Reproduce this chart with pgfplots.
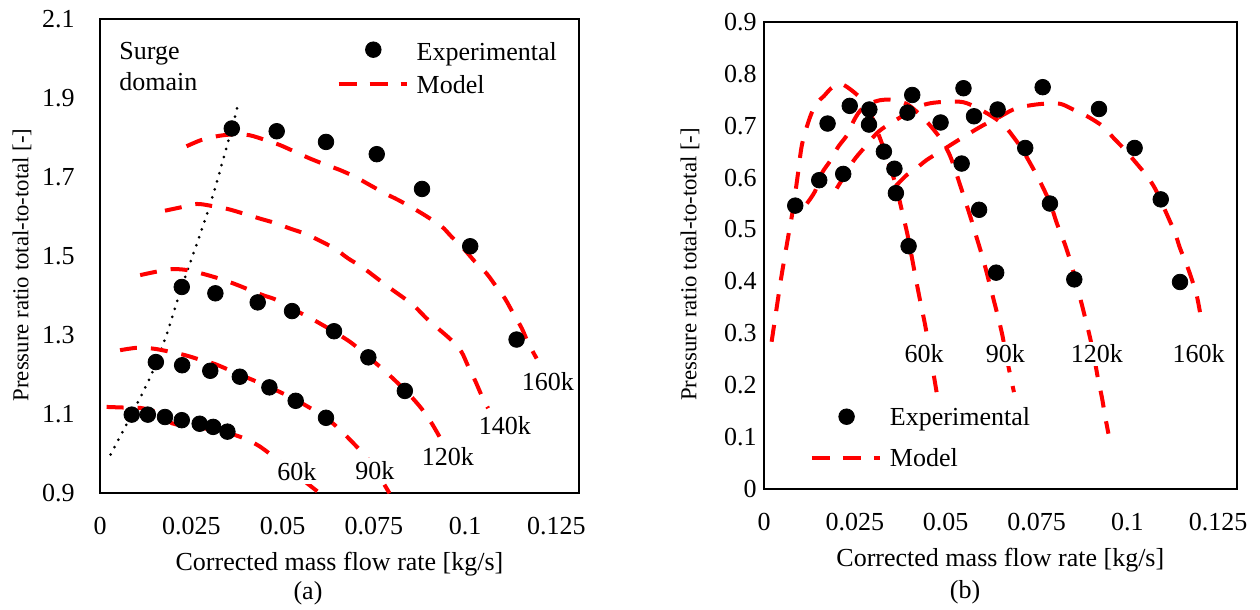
\documentclass[border=0pt]{standalone}
\usepackage{fontspec}
\setmainfont{Liberation Serif}
\usepackage{pgfplots}
\pgfplotsset{compat=1.18}

\newcommand{\chartfont}{\fontsize{13}{15.4}\selectfont}
\newcommand{\labelfont}{\fontsize{11.4}{13.5}\selectfont}

\pgfplotsset{
  mapaxis/.style={
    anchor=south west,
    scale only axis,
    xmin=0,
    axis line style={line width=1pt},
    major tick length=0pt,
    xtick={0,0.025,0.05,0.075,0.1,0.125},
    xticklabels={0,0.025,0.05,0.075,0.1,0.125},
    tick label style={font=\chartfont, inner sep=0pt},
    xticklabel style={yshift=-11.7pt},
    xlabel={Corrected mass flow rate [kg/s]},
    xlabel style={font=\chartfont, at={(axis description cs:0.5,0)}, anchor=north, inner sep=0pt, yshift=-29.3pt},
    ylabel={Pressure ratio total-to-total [-]},
    legend cell align=left,
    legend style={draw=none, fill=none, inner sep=0pt, outer sep=0pt,
      anchor=north west, column sep=4pt, font=\chartfont,
      nodes={inner sep=0pt, text height=8.6pt, text depth=2.8pt}},
  },
  model/.style={red, line width=2pt, dash pattern=on 8.5pt off 7pt, smooth, mark=none, forget plot},
  expt/.style={only marks, mark=*, mark size=3.9pt, black, forget plot},
}
\tikzset{speed/.style={font=\chartfont, fill=white, inner sep=1.5pt}}

\begin{document}
\begin{tikzpicture}[font=\chartfont]
\useasboundingbox (0,0) rectangle (630pt,305pt);

% (a) pressure ratio map
\begin{axis}[mapaxis,
  at={(50pt,58.35pt)}, width=239.5pt, height=237.15pt,
  xmax=0.1312, ymin=0.9, ymax=2.1,
  ytick={0.9,1.1,1.3,1.5,1.7,1.9,2.1},
  yticklabels={0.9,1.1,1.3,1.5,1.7,1.9,2.1},
  yticklabel style={xshift=-12.5pt},
  ylabel style={font=\labelfont, anchor=center, at={([xshift=-39pt,yshift=-4.4pt]axis description cs:0,0.5)}},
  legend style={at={(0.4942,0.9526)}, row sep=5.3pt},
]
\addlegendimage{legend image code/.code={\fill[black] (17.3pt,2.4pt) circle[radius=3.9pt];}}
\addlegendentry{Experimental}
\addlegendimage{legend image code/.code={\draw[red,line width=2pt,dash pattern=on 9pt off 6.5pt] (0pt,1.75pt) -- (34pt,1.75pt);}}
\addlegendentry{Model}

% surge line
\addplot[black, line width=1.5pt, line cap=round, dash pattern=on 0pt off 4.2pt, smooth, forget plot] coordinates {
  (0.0029,0.998) (0.0087,1.100) (0.0142,1.203) (0.0183,1.303) (0.0224,1.422)
  (0.0301,1.629) (0.0361,1.823) (0.0377,1.880)};

% model, 60k
\addplot[model] coordinates {
  (0.0018,1.1185) (0.0064,1.117) (0.0110,1.116) (0.0146,1.108) (0.0172,1.094)
  (0.0198,1.077) (0.0240,1.070) (0.0300,1.062) (0.0360,1.050) (0.0400,1.037)
  (0.0435,1.020) (0.0465,1.000) (0.0500,0.975) (0.0550,0.938) (0.0602,0.900)};
% model, 90k
\addplot[model] coordinates {
  (0.0055,1.262) (0.0100,1.268) (0.0146,1.266) (0.0192,1.258) (0.0235,1.249)
  (0.0274,1.238) (0.0315,1.227) (0.0361,1.209) (0.0397,1.195) (0.0443,1.177)
  (0.0484,1.160) (0.0529,1.140) (0.0566,1.121) (0.0611,1.096) (0.0639,1.076)
  (0.0666,1.053) (0.0701,1.020) (0.0735,0.985) (0.0767,0.940) (0.0793,0.900)};
% model, 120k
\addplot[model] coordinates {
  (0.0110,1.452) (0.0151,1.460) (0.0196,1.467) (0.0237,1.465) (0.0283,1.455)
  (0.0324,1.444) (0.0365,1.431) (0.0406,1.416) (0.0447,1.401) (0.0484,1.389)
  (0.0543,1.359) (0.0571,1.346) (0.0628,1.316) (0.0685,1.283) (0.0730,1.249)
  (0.0767,1.220) (0.0803,1.190) (0.0845,1.152) (0.0881,1.114) (0.0908,1.078)
  (0.0930,1.043)};
% model, 140k
\addplot[model] coordinates {
  (0.0178,1.615) (0.0219,1.623) (0.0265,1.632) (0.0306,1.627) (0.0351,1.619)
  (0.0392,1.608) (0.0438,1.595) (0.0479,1.584) (0.0520,1.570) (0.0561,1.557)
  (0.0602,1.539) (0.0643,1.519) (0.0680,1.494) (0.0717,1.473) (0.0753,1.448)
  (0.0790,1.422) (0.0840,1.389) (0.0863,1.372) (0.0895,1.342) (0.0926,1.317)
  (0.0963,1.287) (0.0990,1.258) (0.1009,1.220) (0.1027,1.186) (0.1045,1.148)
  (0.1063,1.115)};
% model, 160k
\addplot[model] coordinates {
  (0.0237,1.778) (0.0278,1.794) (0.0324,1.804) (0.0365,1.808) (0.0409,1.806)
  (0.0452,1.794) (0.0493,1.781) (0.0534,1.764) (0.0575,1.747) (0.0616,1.732)
  (0.0657,1.718) (0.0698,1.701) (0.0739,1.680) (0.0780,1.659) (0.0817,1.642)
  (0.0858,1.621) (0.0894,1.601) (0.0936,1.575) (0.0963,1.549) (0.0995,1.520)
  (0.1027,1.486) (0.1059,1.456) (0.1086,1.422) (0.1109,1.393) (0.1132,1.355)
  (0.1155,1.318) (0.1173,1.280) (0.1196,1.241)};

% experimental
\addplot[expt] coordinates {
  (0.0087,1.099) (0.0131,1.099) (0.0178,1.093) (0.0224,1.085) (0.0273,1.076)
  (0.0310,1.068) (0.0349,1.056)};
\addplot[expt] coordinates {
  (0.0153,1.232) (0.0225,1.224) (0.0302,1.210) (0.0383,1.195) (0.0464,1.168)
  (0.0536,1.134) (0.0619,1.091)};
\addplot[expt] coordinates {
  (0.0224,1.422) (0.0316,1.406) (0.0432,1.383) (0.0526,1.361) (0.0641,1.310)
  (0.0735,1.244) (0.0835,1.159)};
\addplot[expt] coordinates {
  (0.0361,1.823) (0.0484,1.816) (0.0619,1.789) (0.0758,1.758) (0.0882,1.670)
  (0.1014,1.525) (0.1141,1.289)};

\node[speed] at (axis cs:0.0539,0.954) {60k};
\node[speed] at (axis cs:0.0753,0.958) {90k};
\node[speed] at (axis cs:0.0953,0.992) {120k};
\node[speed] at (axis cs:0.1109,1.072) {140k};
\node[speed] at (axis cs:0.1227,1.182) {160k};
\node[anchor=north west, align=left, inner sep=0pt, font=\fontsize{13}{15.35}\selectfont]
  at (axis description cs:0.0397,0.952) {Surge\\domain};
\end{axis}

% (b) efficiency map
\begin{axis}[mapaxis,
  at={(382pt,60.35pt)}, width=236.35pt, height=233.8pt,
  xmax=0.1301, ymin=0, ymax=0.9,
  ytick={0,0.1,0.2,0.3,0.4,0.5,0.6,0.7,0.8,0.9},
  yticklabels={0,0.1,0.2,0.3,0.4,0.5,0.6,0.7,0.8,0.9},
  yticklabel style={xshift=-3.5pt},
  ylabel style={font=\labelfont, anchor=center, at={([xshift=-37pt,yshift=-4.4pt]axis description cs:0,0.5)}},
  legend style={at={(0.0973,0.1728)}, row sep=9.1pt},
]
\addlegendimage{legend image code/.code={\fill[black] (17.3pt,1.6pt) circle[radius=3.9pt];}}
\addlegendentry{Experimental}
\addlegendimage{legend image code/.code={\draw[red,line width=2pt,dash pattern=on 9pt off 6.5pt] (0pt,1.3pt) -- (34pt,1.3pt);}}
\addlegendentry{Model}

% model, 60k
\addplot[model] coordinates {
  (0.0021,0.284) (0.0035,0.350) (0.0048,0.410) (0.0065,0.480) (0.0080,0.540)
  (0.0093,0.605) (0.0105,0.665) (0.0127,0.717) (0.0145,0.743) (0.0165,0.757)
  (0.0185,0.772) (0.0207,0.781) (0.0225,0.776) (0.0255,0.760) (0.0284,0.738)
  (0.0306,0.700) (0.0330,0.655) (0.0360,0.592) (0.0380,0.535) (0.0395,0.490)
  (0.0406,0.450) (0.0418,0.405) (0.0430,0.362) (0.0443,0.318) (0.0455,0.270)
  (0.0466,0.225) (0.0475,0.187)};
% model, 90k
\addplot[model] coordinates {
  (0.0118,0.550) (0.0140,0.573) (0.0159,0.608) (0.0182,0.632) (0.0204,0.659)
  (0.0231,0.684) (0.0246,0.708) (0.0264,0.728) (0.0290,0.742) (0.0320,0.749)
  (0.0345,0.750) (0.0366,0.748) (0.0397,0.740) (0.0434,0.718) (0.0466,0.693)
  (0.0493,0.668) (0.0512,0.642) (0.0526,0.615) (0.0540,0.585) (0.0555,0.553)
  (0.0570,0.520) (0.0585,0.485) (0.0598,0.455) (0.0610,0.425) (0.0621,0.395)
  (0.0632,0.365) (0.0643,0.335) (0.0655,0.300) (0.0666,0.260) (0.0677,0.222)
  (0.0688,0.187)};
% model, 120k
\addplot[model] coordinates {
  (0.0200,0.579) (0.0214,0.595) (0.0246,0.632) (0.0273,0.655) (0.0310,0.685)
  (0.0338,0.700) (0.0380,0.718) (0.0420,0.735) (0.0457,0.743) (0.0503,0.746)
  (0.0549,0.745) (0.0590,0.733) (0.0636,0.714) (0.0664,0.698) (0.0691,0.674)
  (0.0710,0.655) (0.0737,0.622) (0.0760,0.592) (0.0788,0.550) (0.0806,0.512)
  (0.0829,0.470) (0.0847,0.430) (0.0861,0.392) (0.0875,0.355) (0.0886,0.324)
  (0.0898,0.290) (0.0911,0.245) (0.0920,0.210) (0.0930,0.177) (0.0939,0.140)
  (0.0948,0.107)};
% model, 160k
\addplot[model] coordinates {
  (0.0363,0.584) (0.0393,0.605) (0.0416,0.616) (0.0448,0.634) (0.0485,0.650)
  (0.0521,0.666) (0.0558,0.682) (0.0604,0.701) (0.0641,0.714) (0.0686,0.731)
  (0.0724,0.738) (0.0768,0.742) (0.0815,0.742) (0.0851,0.731) (0.0892,0.717)
  (0.0934,0.698) (0.0961,0.677) (0.0994,0.653) (0.1022,0.630) (0.1054,0.603)
  (0.1077,0.578) (0.1100,0.543) (0.1114,0.521) (0.1132,0.492) (0.1145,0.464)
  (0.1164,0.431) (0.1178,0.403) (0.1191,0.373) (0.1200,0.341)};

% experimental
\addplot[expt] coordinates {
  (0.0086,0.546) (0.0175,0.704) (0.0236,0.738) (0.0290,0.731) (0.0330,0.650)
  (0.0359,0.617) (0.0363,0.570) (0.0398,0.468)};
\addplot[expt] coordinates {
  (0.0152,0.595) (0.0289,0.702) (0.0395,0.725) (0.0486,0.706) (0.0544,0.627)
  (0.0592,0.538) (0.0639,0.417)};
\addplot[expt] coordinates {
  (0.0218,0.607) (0.0408,0.759) (0.0578,0.718) (0.0719,0.657) (0.0787,0.550)
  (0.0854,0.404)};
\addplot[expt] coordinates {
  (0.0549,0.772) (0.0643,0.731) (0.0767,0.774) (0.0922,0.732) (0.1020,0.657)
  (0.1092,0.558) (0.1145,0.399)};

\node[speed] at (axis cs:0.0441,0.261) {60k};
\node[speed] at (axis cs:0.0664,0.261) {90k};
\node[speed] at (axis cs:0.0916,0.261) {120k};
\node[speed] at (axis cs:0.1196,0.261) {160k};
\end{axis}

\node at (154pt,8.35pt) {(a)};
\node at (482.5pt,8.75pt) {(b)};
\end{tikzpicture}
\end{document}
